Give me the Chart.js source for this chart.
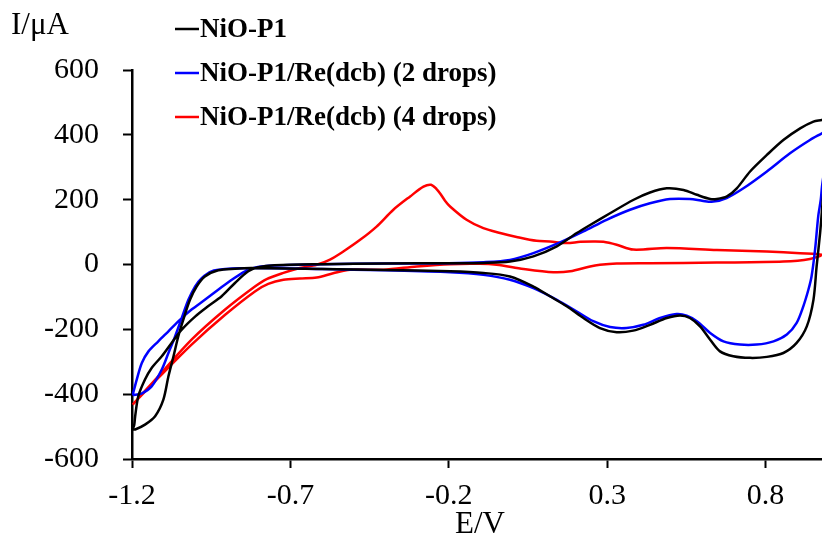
<!DOCTYPE html>
<html>
<head>
<meta charset="utf-8">
<script src="https://cdn.jsdelivr.net/npm/chart.js@4.4.1/dist/chart.umd.min.js"></script>
<style>
  html, body { margin: 0; padding: 0; background: #fff; }
  #wrap { width: 822px; height: 543px; }
</style>
</head>
<body>
<div id="wrap"><canvas id="cv"></canvas></div>
<script>
// series names and colours
const seriesLabels = ['NiO-P1', 'NiO-P1/Re(dcb) (2 drops)', 'NiO-P1/Re(dcb) (4 drops)'];
const seriesColors = ['#000000', '#0000ff', '#ff0000'];

const xTicks = [-1.2, -0.7, -0.2, 0.3, 0.8];
const yTicks = [-600, -400, -200, 0, 200, 400, 600];
const xTitle = 'E/V';
const yTitle = 'I/\u03bcA';

// NiO-P1 : anodic branch (left -> right) then cathodic branch (right -> left)
const npE = [-1.198, -1.193, -1.19, -1.18, -1.159, -1.138, -1.106, -1.075, -1.043, -1.0, -0.96, -0.917, -0.875, -0.833, -0.8, -0.75, -0.6, -0.4, -0.2, -0.09, -0.007, 0.067, 0.141, 0.204, 0.246, 0.309, 0.382, 0.435, 0.488, 0.541, 0.583, 0.625, 0.646, 0.678, 0.709, 0.751, 0.804, 0.856, 0.909, 0.951, 0.978, 0.995,
             0.99, 0.978, 0.972, 0.961, 0.951, 0.93, 0.898, 0.856, 0.804, 0.751, 0.698, 0.656, 0.625, 0.593, 0.561, 0.53, 0.488, 0.435, 0.382, 0.33, 0.277, 0.225, 0.172, 0.119, 0.067, -0.007, -0.091, -0.196, -0.4, -0.6, -0.822, -0.875, -0.928, -0.97, -0.996, -1.017, -1.038, -1.054, -1.069, -1.085, -1.101, -1.127, -1.159, -1.19, -1.198];
const npI = [-509, -495, -468, -406, -355, -319, -283, -242, -201, -160, -129, -98, -57, -21, -8, -2, 1, 3, 4, 5, 9, 25, 56, 97, 122, 158, 199, 222, 235, 230, 215, 202, 202, 210, 235, 287, 338, 384, 420, 441, 446, 452,
             330, 169, 97, -6, -109, -191, -242, -273, -285, -288, -283, -268, -232, -191, -165, -157, -165, -186, -204, -209, -196, -165, -129, -98, -68, -37, -26, -21, -17, -14, -11, -13, -18, -37, -68, -109, -170, -222, -283, -345, -417, -468, -494, -509, -509];

// NiO-P1/Re(dcb) 2 drops
const re2E = [-1.198, -1.185, -1.169, -1.148, -1.117, -1.085, -1.048, -1.012, -0.97, -0.928, -0.885, -0.843, -0.81, -0.75, -0.6, -0.4, -0.2, -0.09, -0.007, 0.067, 0.151, 0.225, 0.298, 0.372, 0.435, 0.498, 0.561, 0.603, 0.635, 0.677, 0.73, 0.804, 0.877, 0.94, 0.978, 0.995,
              0.99, 0.978, 0.974, 0.966, 0.956, 0.945, 0.935, 0.919, 0.898, 0.867, 0.825, 0.772, 0.719, 0.667, 0.625, 0.583, 0.551, 0.519, 0.467, 0.414, 0.361, 0.309, 0.256, 0.204, 0.141, 0.067, -0.007, -0.091, -0.196, -0.4, -0.6, -0.812, -0.906, -0.949, -0.98, -1.001, -1.022, -1.043, -1.064, -1.085, -1.106, -1.138, -1.17, -1.198];
const re2I = [-403, -355, -304, -268, -237, -206, -170, -139, -109, -78, -47, -21, -9, -3, 1, 3, 4, 7, 14, 35, 68, 102, 138, 169, 189, 202, 202, 196, 194, 205, 235, 287, 343, 384, 405, 415,
              330, 240, 199, 148, 45, -37, -78, -129, -180, -216, -237, -247, -247, -237, -211, -175, -158, -153, -165, -186, -196, -193, -175, -145, -109, -73, -47, -32, -24, -18, -14, -11, -14, -21, -42, -68, -109, -165, -222, -273, -324, -376, -398, -403];

// NiO-P1/Re(dcb) 4 drops
const re4E = [-1.198, -1.117, -1.012, -0.906, -0.812, -0.775, -0.722, -0.67, -0.617, -0.575, -0.533, -0.48, -0.428, -0.375, -0.322, -0.28, -0.256, -0.238, -0.228, -0.212, -0.196, -0.144, -0.091, -0.038, 0.014, 0.077, 0.119, 0.172, 0.215, 0.256, 0.288, 0.33, 0.382, 0.488, 0.646, 0.804, 0.909, 0.978,
              0.94, 0.856, 0.646, 0.435, 0.33, 0.277, 0.246, 0.183, 0.13, 0.036, -0.049, -0.102, -0.196, -0.301, -0.407, -0.512, -0.565, -0.617, -0.67, -0.722, -0.77, -0.812, -0.906, -1.012, -1.117, -1.198];
const re4I = [-432, -345, -232, -139, -68, -45, -26, -11, -1, 15, 40, 76, 117, 169, 210, 240, 246, 232, 220, 197, 179, 138, 112, 97, 85, 73, 71, 66, 70, 71, 70, 61, 46, 51, 45, 40, 35, 30,
              17, 9, 6, 4, 3, -1, -6, -21, -24, -14, -1, 2, 1, -6, -16, -16, -27, -40, -43, -47, -60, -83, -155, -247, -350, -432];

function toPoints(E, I) {
    return E.map((e, i) => ({x: e, y: I[i]}));
}

const allE = [npE, re2E, re4E];
const allI = [npI, re2I, re4I];

// legend, axis titles drawn by hand
const extraText = {
    id: 'extraText',
    afterDraw(chart) {
        const ctx = chart.ctx;
        ctx.save();
        ctx.fillStyle = '#000';
        ctx.textBaseline = 'middle';
        ctx.font = '31px "Liberation Serif"';
        ctx.textAlign = 'left';
        ctx.fillText(yTitle, 11, 26);
        ctx.textAlign = 'center';
        ctx.fillText(xTitle, 480, 525);

        ctx.textAlign = 'left';
        ctx.font = 'bold 27px "Liberation Serif"';
        seriesLabels.forEach((lab, i) => {
            const y = 29 + i * 44;
            ctx.strokeStyle = seriesColors[i];
            ctx.lineWidth = 2.5;
            ctx.beginPath();
            ctx.moveTo(175, y);
            ctx.lineTo(199, y);
            ctx.stroke();
            ctx.fillText(lab, 200, y + 1);
        });
        ctx.restore();
    }
};

const ctx = document.getElementById('cv').getContext('2d');
const cvChart = new Chart(ctx, {
    type: 'scatter',
    data: {
        datasets: seriesLabels.map((lab, i) => ({
            label: lab,
            data: toPoints(allE[i], allI[i]),
            showLine: true,
            borderColor: seriesColors[i],
            borderWidth: 2.5,
            pointRadius: 0,
            tension: 0.3,
            fill: false
        }))
    },
    options: {
        responsive: true,
        maintainAspectRatio: false,
        animation: false,
        layout: { padding: { top: 70, left: 0, right: 0, bottom: 0 } },
        plugins: {
            legend: { display: false },
            tooltip: { enabled: false }
        },
        scales: {
            x: {
                type: 'linear',
                min: -1.2,
                max: 0.978,
                afterBuildTicks: (scale) => { scale.ticks = xTicks.map(v => ({value: v})); },
                afterFit: (scale) => { scale.height = 84; },
                ticks: {
                    color: '#000',
                    font: { family: '"Liberation Serif"', size: 30 },
                    padding: 10,
                    maxRotation: 0,
                    callback: (v) => v.toFixed(1)
                },
                grid: { drawOnChartArea: false, drawTicks: true, tickLength: 9, tickColor: '#000', tickWidth: 2 },
                border: { color: '#000', width: 2.5 }
            },
            y: {
                min: -600,
                max: 600,
                afterBuildTicks: (scale) => { scale.ticks = yTicks.map(v => ({value: v})); },
                afterFit: (scale) => { scale.width = 132; },
                ticks: {
                    color: '#000',
                    font: { family: '"Liberation Serif"', size: 30 },
                    padding: 24
                },
                grid: { drawOnChartArea: false, drawTicks: true, tickLength: 9, tickColor: '#000', tickWidth: 2 },
                border: { color: '#000', width: 2.5 }
            }
        }
    },
    plugins: [extraText]
});
</script>
</body>
</html>
